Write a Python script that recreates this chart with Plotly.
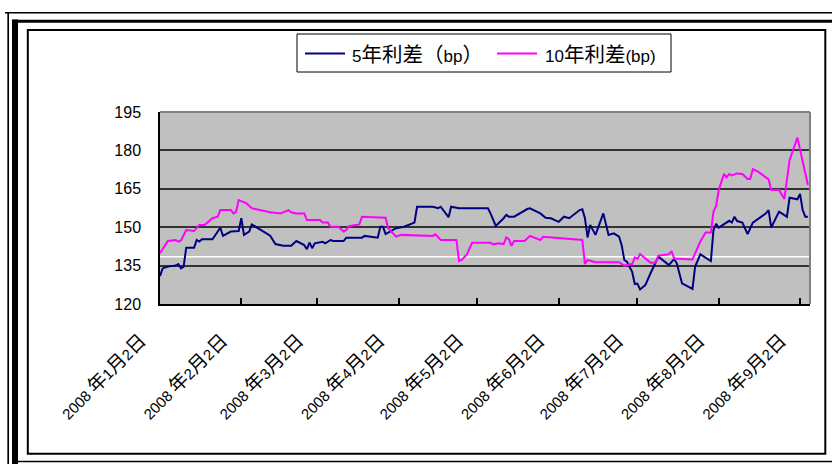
import re
import plotly.graph_objects as go

# ---------------- data ----------------
DATES_5Y = ["2008-01-02","2008-01-03","2008-01-05","2008-01-08","2008-01-09","2008-01-10","2008-01-11","2008-01-12","2008-01-15","2008-01-16",
            "2008-01-17","2008-01-18","2008-01-22","2008-01-25","2008-01-26","2008-01-29","2008-02-01","2008-02-02","2008-02-03","2008-02-05",
            "2008-02-06","2008-02-13","2008-02-15","2008-02-18","2008-02-21","2008-02-23","2008-02-26","2008-02-27","2008-02-28","2008-02-29",
            "2008-03-01","2008-03-04","2008-03-05","2008-03-07","2008-03-08","2008-03-12","2008-03-13","2008-03-19","2008-03-20","2008-03-23",
            "2008-03-25","2008-03-26","2008-03-27","2008-03-28","2008-04-01","2008-04-04","2008-04-08","2008-04-09","2008-04-15","2008-04-17",
            "2008-04-18","2008-04-21","2008-04-22","2008-04-25","2008-05-06","2008-05-07","2008-05-09","2008-05-12","2008-05-13","2008-05-14",
            "2008-05-16","2008-05-21","2008-05-22","2008-05-26","2008-05-28","2008-05-30","2008-06-02","2008-06-04","2008-06-06","2008-06-10",
            "2008-06-11","2008-06-12","2008-06-13","2008-06-14","2008-06-16","2008-06-19","2008-06-21","2008-06-23","2008-06-25","2008-06-26",
            "2008-06-27","2008-06-28","2008-06-30","2008-07-01","2008-07-02","2008-07-03","2008-07-05","2008-07-07","2008-07-10","2008-07-14",
            "2008-07-16","2008-07-17","2008-07-19","2008-07-23","2008-07-24","2008-07-26","2008-07-30","2008-07-31","2008-08-01","2008-08-02",
            "2008-08-06","2008-08-07","2008-08-08","2008-08-09","2008-08-11","2008-08-13","2008-08-15","2008-08-20","2008-08-21","2008-08-22",
            "2008-08-25","2008-08-28","2008-08-29","2008-09-01","2008-09-02","2008-09-03","2008-09-04","2008-09-05"]
SPREAD_5Y = [130.9,133.9,134.6,135.0,135.6,133.9,134.6,142.0,142.0,145.0,
             144.4,145.3,145.3,149.8,146.6,148.3,148.5,153.5,147.0,148.3,
             151.1,146.7,143.4,142.8,142.8,144.6,143.0,141.4,144.0,141.8,
             143.7,144.3,143.7,145.0,144.6,144.6,145.9,145.9,146.6,146.3,
             145.9,150.2,150.2,147.3,149.6,150.2,151.8,158.0,158.0,157.4,
             158.0,153.9,158.0,157.4,157.4,155.4,150.5,153.5,154.8,154.1,
             154.1,157.1,157.4,155.4,153.7,153.5,152.1,154.1,153.5,156.7,
             157.0,153.5,146.0,150.9,147.0,155.4,147.0,147.6,146.3,143.0,
             137.2,136.5,132.6,127.8,128.0,125.7,127.4,132.0,138.5,135.2,
             137.6,135.9,128.1,125.9,134.6,139.4,136.8,148.9,151.3,149.8,
             152.5,151.8,154.1,152.4,151.8,147.3,151.8,155.4,156.7,149.9,
             156.1,154.1,161.5,160.9,163.0,156.7,154.1,154.1]

DATES_10Y = ["2008-01-02","2008-01-04","2008-01-05","2008-01-08","2008-01-09","2008-01-10","2008-01-12","2008-01-15","2008-01-17","2008-01-19",
             "2008-01-22","2008-01-24","2008-01-25","2008-01-29","2008-01-30","2008-01-31","2008-02-01","2008-02-04","2008-02-06","2008-02-13",
             "2008-02-17","2008-02-20","2008-02-21","2008-02-23","2008-02-26","2008-02-27","2008-03-03","2008-03-04","2008-03-06","2008-03-07",
             "2008-03-10","2008-03-12","2008-03-13","2008-03-14","2008-03-18","2008-03-19","2008-03-28","2008-03-29","2008-04-01","2008-04-03",
             "2008-04-15","2008-04-16","2008-04-18","2008-04-24","2008-04-25","2008-04-26","2008-04-28","2008-04-30","2008-05-07","2008-05-08",
             "2008-05-10","2008-05-12","2008-05-13","2008-05-14","2008-05-15","2008-05-16","2008-05-20","2008-05-22","2008-05-26","2008-05-27",
             "2008-06-11","2008-06-12","2008-06-13","2008-06-16","2008-06-25","2008-06-27","2008-06-30","2008-07-01","2008-07-02","2008-07-03",
             "2008-07-07","2008-07-09","2008-07-10","2008-07-14","2008-07-15","2008-07-16","2008-07-23","2008-07-24","2008-07-26","2008-07-28",
             "2008-07-30","2008-07-31","2008-08-01","2008-08-02","2008-08-04","2008-08-05","2008-08-06","2008-08-07","2008-08-09","2008-08-11",
             "2008-08-13","2008-08-14","2008-08-15","2008-08-17","2008-08-21","2008-08-22","2008-08-25","2008-08-27","2008-08-29","2008-09-01",
             "2008-09-03","2008-09-05"]
SPREAD_10Y = [139.8,142.8,144.6,145.0,144.4,144.8,148.9,148.5,150.9,150.9,
              153.5,154.1,156.7,156.7,155.4,156.0,160.6,159.3,157.4,155.8,
              155.4,156.7,155.8,155.4,155.4,152.8,152.8,151.8,151.8,150.2,
              150.2,148.3,148.9,150.4,151.1,154.1,153.7,149.6,146.3,147.0,
              146.6,147.2,145.0,145.0,136.8,137.2,139.4,143.9,143.9,143.3,
              143.7,143.4,146.0,145.3,142.7,144.6,144.6,146.6,145.0,146.3,
              145.0,135.6,137.2,136.3,136.3,135.0,135.6,138.2,137.6,139.5,
              136.1,136.1,138.9,139.4,140.7,137.8,137.4,139.8,144.4,147.9,
              147.9,156.1,158.3,164.5,170.8,169.5,170.8,170.2,171.0,170.8,
              168.8,168.8,172.7,171.7,168.7,164.5,164.5,161.0,176.2,185.0,
              175.6,166.5]

SERIES_NAMES = ["5年利差（bp）", "10年利差(bp)"]
TICK_DATES = ["2008-01-02", "2008-02-02", "2008-03-02", "2008-04-02", "2008-05-02",
              "2008-06-02", "2008-07-02", "2008-08-02", "2008-09-02"]
TICK_LABELS = ["2008 年1月2日", "2008 年2月2日", "2008 年3月2日", "2008 年4月2日", "2008 年5月2日",
               "2008 年6月2日", "2008 年7月2日", "2008 年8月2日", "2008 年9月2日"]
Y_TICKS = [120, 135, 150, 165, 180, 195]
REF_LEVEL = 138.5

# ---------------- styling / layout ----------------
W, H = 832, 464
L, R, T, B = 160, 810, 112, 304
FONT = "Liberation Sans, Arial, Noto Sans CJK SC, sans-serif"
NAVY = "#000080"
MAGENTA = "#FF00FF"


def cjk(text, size):
    return re.sub(r"([\u3000-\u9fff\uff00-\uffef]+)",
                  lambda m: f"<span style='font-size:{size}px'>{m.group(1)}</span>", text)


def xp(p):
    return (p - L) / (R - L)


def yp(p):
    return (B - p) / (B - T)


fig = go.Figure()
fig.add_trace(go.Scatter(x=DATES_5Y, y=SPREAD_5Y, mode="lines", name=SERIES_NAMES[0],
                         line=dict(color=NAVY, width=2), showlegend=False))
fig.add_trace(go.Scatter(x=DATES_10Y, y=SPREAD_10Y, mode="lines", name=SERIES_NAMES[1],
                         line=dict(color=MAGENTA, width=2), showlegend=False))

shapes = []
# white reference line inside plot
shapes.append(dict(type="line", xref="paper", yref="y", x0=0, x1=1, y0=REF_LEVEL, y1=REF_LEVEL,
                   line=dict(color="white", width=1.5), layer="below"))
# grey top / right border of plot area
shapes.append(dict(type="line", xref="paper", yref="paper", x0=0, x1=1, y0=1, y1=1,
                   line=dict(color="#808080", width=2), layer="above"))
shapes.append(dict(type="line", xref="paper", yref="paper", x0=1, x1=1, y0=0, y1=1,
                   line=dict(color="#808080", width=2), layer="above"))


def hline(x0, x1, y, w, c="black"):
    shapes.append(dict(type="line", xref="paper", yref="paper", x0=xp(x0), x1=xp(x1),
                       y0=yp(y), y1=yp(y), line=dict(color=c, width=w), layer="above"))


def vline(x, y0, y1, w, c="black"):
    shapes.append(dict(type="line", xref="paper", yref="paper", x0=xp(x), x1=xp(x),
                       y0=yp(y0), y1=yp(y1), line=dict(color=c, width=w), layer="above"))


# document frame
hline(5, 840, 12.7, 1.5)
vline(8.2, 12, 470, 1.7)
vline(15, 19.5, 470, 6)
hline(12, 840, 21.2, 3)
hline(18, 840, 461.5, 1.5)
# inner chart border
shapes.append(dict(type="rect", xref="paper", yref="paper", x0=xp(27.8), x1=xp(825.3),
                   y0=yp(453.7), y1=yp(30), line=dict(color="black", width=2), layer="above"))
# legend box
shapes.append(dict(type="rect", xref="paper", yref="paper", x0=xp(297), x1=xp(671),
                   y0=yp(72), y1=yp(34), line=dict(color="black", width=1), layer="above"))
hline(305, 345, 53.5, 2, NAVY)
hline(497, 537, 53.5, 2, MAGENTA)

annotations = [
    dict(xref="paper", yref="paper", x=xp(350), y=yp(54), xanchor="left", yanchor="middle",
         text=cjk(SERIES_NAMES[0], 20.5), showarrow=False, font=dict(family=FONT, size=17, color="black")),
    dict(xref="paper", yref="paper", x=xp(543), y=yp(54), xanchor="left", yanchor="middle",
         text=cjk(SERIES_NAMES[1], 20.5), showarrow=False, font=dict(family=FONT, size=17, color="black")),
]

fig.update_layout(
    width=W, height=H,
    margin=dict(l=L, r=W - R, t=T, b=H - B, pad=0),
    paper_bgcolor="white",
    plot_bgcolor="#C0C0C0",
    font=dict(family=FONT, color="black"),
    shapes=shapes,
    annotations=annotations,
    hovermode=False,
    xaxis=dict(
        type="date",
        range=["2008-01-02", "2008-09-05 19:00"],
        tickvals=TICK_DATES,
        ticktext=[cjk(t, 19) for t in TICK_LABELS],
        tickangle=-45,
        ticks="inside", ticklen=6, tickwidth=1.5, tickcolor="black",
        showgrid=False, zeroline=False,
        showline=True, linecolor="black", linewidth=2,
        tickfont=dict(family=FONT, size=15, color="black"),
        ticklabelstandoff=20,
        ticklabelshift=-18,
    ),
    yaxis=dict(
        range=[120, 195],
        tickvals=Y_TICKS,
        ticks="outside", ticklen=14, tickcolor="rgba(0,0,0,0)",
        showgrid=True, gridcolor="#333333", gridwidth=1.5,
        zeroline=False,
        showline=True, linecolor="black", linewidth=1.5,
        tickfont=dict(family=FONT, size=16, color="black"),
    ),
)

fig.write_html("out.html", config={"displayModeBar": False},
               post_script="document.body.style.margin='0px';document.body.style.overflow='hidden';")
